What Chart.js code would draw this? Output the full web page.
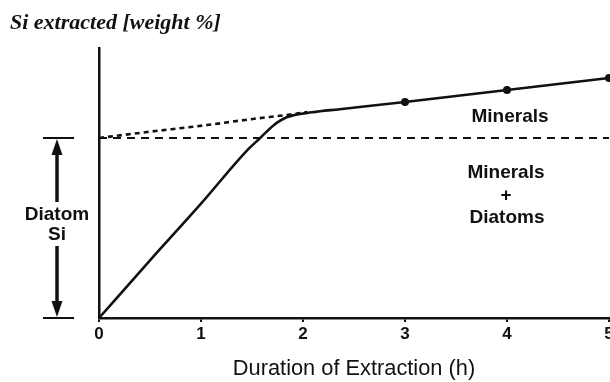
<!DOCTYPE html>
<html>
<head>
<meta charset="utf-8">
<script src="https://cdn.jsdelivr.net/npm/chart.js@4/dist/chart.umd.min.js"></script>
<style>
  html, body { margin: 0; padding: 0; background: #ffffff; }
  #wrap { width: 610px; height: 382px; position: relative; }
  canvas { display: block; }
</style>
</head>
<body>
<div id="wrap"><canvas id="c" width="610" height="382"></canvas></div>
<script>
// ---- data ----
const hours = [0, 0.5, 1.0, 1.45, 1.58, 1.71, 1.84, 2.09, 2.36, 3, 3.5, 4, 4.5, 5];
const siExtracted = [0, 3.2, 6.35, 9.3, 10.0, 10.7, 11.15, 11.43, 11.6, 12.0, 12.33, 12.67, 13.0, 13.33];
const markedHours = [3, 4, 5];
const extrapHours = [0, 0.47, 1.06, 1.51, 1.84, 2.04];
const extrapSi = [10, 10.33, 10.72, 11.06, 11.28, 11.44];
const diatomLevel = 10;
const levelHours = [0, 5];
const xTicks = [0, 1, 2, 3, 4, 5];
const titleText = 'Si extracted [weight %]';
const xTitle = 'Duration of Extraction (h)';
const diatomLabel = ['Diatom', 'Si'];
const regionLabels = [
  { text: 'Minerals', x: 4.03, y: 11.26 },
  { text: 'Minerals', x: 3.99, y: 8.13 },
  { text: '+', x: 3.99, y: 6.83 },
  { text: 'Diatoms', x: 4.0, y: 5.63 }
];

const toPts = (xs, ys) => xs.map((x, i) => ({ x: x, y: ys[i] }));

const annot = {
  id: 'annot',
  afterDraw(chart) {
    const ctx = chart.ctx;
    const xs = chart.scales.x, ys = chart.scales.y;
    ctx.save();
    ctx.fillStyle = '#111';
    ctx.strokeStyle = '#111';
    // region labels
    ctx.font = 'bold 19px "Liberation Sans", Arial, sans-serif';
    ctx.textAlign = 'center';
    ctx.textBaseline = 'middle';
    regionLabels.forEach(l => {
      ctx.fillText(l.text, xs.getPixelForValue(l.x), ys.getPixelForValue(l.y) + 1);
    });
    // diatom Si double arrow
    const top = ys.getPixelForValue(diatomLevel);
    const bot = ys.getPixelForValue(0);
    const ax = chart.chartArea.left - 42;
    ctx.lineWidth = 2;
    ctx.beginPath();
    ctx.moveTo(ax - 14, top); ctx.lineTo(ax + 17, top);
    ctx.moveTo(ax - 14, bot); ctx.lineTo(ax + 17, bot);
    ctx.stroke();
    ctx.lineWidth = 3.5;
    ctx.beginPath();
    ctx.moveTo(ax, top + 14); ctx.lineTo(ax, top + 64);
    ctx.moveTo(ax, bot - 14); ctx.lineTo(ax, bot - 72);
    ctx.stroke();
    ctx.beginPath();
    ctx.moveTo(ax, top + 1); ctx.lineTo(ax - 5.5, top + 17); ctx.lineTo(ax + 5.5, top + 17); ctx.closePath();
    ctx.moveTo(ax, bot - 1); ctx.lineTo(ax - 5.5, bot - 17); ctx.lineTo(ax + 5.5, bot - 17); ctx.closePath();
    ctx.fill();
    const mid = (top + bot) / 2;
    ctx.fillText(diatomLabel[0], ax, mid - 13.5);
    ctx.fillText(diatomLabel[1], ax, mid + 6.5);
    ctx.restore();
  }
};

new Chart(document.getElementById('c'), {
  type: 'scatter',
  data: {
    datasets: [
      {
        data: toPts(hours, siExtracted),
        showLine: true,
        borderColor: '#111',
        borderWidth: 2.6,
        cubicInterpolationMode: 'monotone',
        pointRadius: ctx => markedHours.includes(hours[ctx.dataIndex]) ? 4 : 0,
        pointBackgroundColor: '#111',
        pointBorderWidth: 0,
        clip: false
      },
      {
        data: toPts(extrapHours, extrapSi),
        showLine: true,
        borderColor: '#111',
        borderWidth: 2.6,
        borderDash: [5, 4],
        cubicInterpolationMode: 'monotone',
        pointRadius: 0
      },
      {
        data: toPts(levelHours, levelHours.map(() => diatomLevel)),
        showLine: true,
        borderColor: '#111',
        borderWidth: 1.8,
        borderDash: [8, 6],
        pointRadius: 0
      }
    ]
  },
  options: {
    responsive: false,
    animation: false,
    devicePixelRatio: 1,
    layout: { autoPadding: false, padding: { left: 10, right: 1, top: 0, bottom: 0 } },
    plugins: {
      legend: { display: false },
      tooltip: { enabled: false },
      title: {
        display: true,
        text: titleText,
        align: 'start',
        color: '#111',
        font: { family: '"Liberation Serif", "Times New Roman", serif', size: 22, style: 'italic', weight: 'bold', lineHeight: 1.2 },
        padding: { top: 10, bottom: 11.6 }
      }
    },
    scales: {
      x: {
        type: 'linear',
        min: 0, max: 5,
        afterBuildTicks: s => { s.ticks = xTicks.map(v => ({ value: v })); },
        afterFit: s => { s.height = 64; s.paddingLeft = 0; s.paddingRight = 0; },
        grid: { display: true, drawOnChartArea: false, drawTicks: true, tickLength: 4, color: '#111', lineWidth: 2 },
        border: { display: true, color: '#111', width: 2.5 },
        ticks: { color: '#111', font: { family: '"Liberation Sans", Arial, sans-serif', size: 17, weight: 'bold' }, padding: 2, maxRotation: 0 },
        title: { display: true, text: xTitle, color: '#111', font: { family: '"Liberation Sans", Arial, sans-serif', size: 21.8, lineHeight: 1.2 }, padding: { top: 0, bottom: 0 } }
      },
      y: {
        type: 'linear',
        min: 0, max: 15,
        afterFit: s => { s.width = 89; },
        grid: { display: false, drawTicks: false },
        border: { display: true, color: '#111', width: 2.5 },
        ticks: { display: false }
      }
    }
  },
  plugins: [annot]
});
</script>
</body>
</html>
